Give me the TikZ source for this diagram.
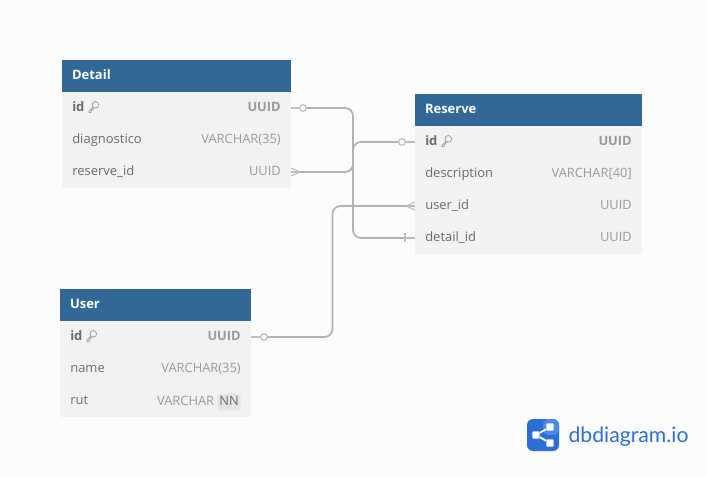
\documentclass[tikz,border=0pt]{standalone}
\usepackage{fontspec}
\setmainfont{Open Sans}
\newfontfamily\logofont{Lato}
\usetikzlibrary{positioning, calc}

\definecolor{headblue}{HTML}{316896}
\definecolor{rowgray}{HTML}{F2F2F2}
\definecolor{pagegray}{HTML}{FCFCFC}
\definecolor{fieldgray}{HTML}{6B6B6B}
\definecolor{typegray}{HTML}{9A9A9A}
\definecolor{linegray}{HTML}{B0B0B6}
\definecolor{logoblue}{HTML}{2B6FD6}
\definecolor{logolight}{HTML}{4A8CE6}

\begin{document}
\begin{tikzpicture}[
    x=0.75pt, y=-0.75pt,
    node distance=0pt,
    head/.style={rectangle, fill=headblue, text=white, font=\fontsize{9.75}{12}\selectfont\bfseries, anchor=north west, minimum height=24pt, text width=#1-15pt, text height=7.5pt, text depth=2pt, align=left, inner xsep=7.5pt, inner ysep=0pt, outer sep=0pt},
    row/.style={rectangle, fill=rowgray, minimum width=#1, minimum height=24pt, inner sep=0pt, outer sep=0pt},
    field/.style={text=fieldgray, font=\fontsize{9.75}{12}\selectfont, inner sep=0pt, anchor=west, text height=7.5pt, text depth=2pt},
    fieldkey/.style={field, font=\fontsize{9.75}{12}\selectfont\bfseries},
    type/.style={text=typegray, font=\fontsize{9.65}{12}\selectfont, inner sep=0pt, anchor=east, text height=7.5pt, text depth=2pt},
    typekey/.style={type, font=\fontsize{9.65}{12}\selectfont\bfseries},
    keyicon/.pic={\draw[typegray, line width=0.55pt] (2.6,-2.2) circle (3.3) (0.2,0.2) -- (-3.8,4.2) -- (-3.8,5.4) -- (-1.8,5.4) -- (-1.4,3.6) -- (1.2,1.4);},
    line/.style={draw=linegray, line width=1.3pt, rounded corners=6pt},
    thin/.style={draw=linegray!85, line width=0.8pt},
    zero/.style={circle, draw=linegray, line width=0.7pt, fill=pagegray, inner sep=0pt, minimum size=5pt},
    logodot/.style={rectangle, rounded corners=0.8pt, fill=white, inner sep=0pt, minimum size=5.5pt}
]
    \useasboundingbox (0,0) rectangle (706,477);
    \fill[pagegray] (0,0) rectangle (706,477);

    % Detail
    \node [head=171.75pt] (detail) at (62,60) {Detail};
    \node [row=171.75pt, below=of detail] (detailid) {};
    \node [row=171.75pt, below=of detailid] (detaildiag) {};
    \node [row=171.75pt, below=of detaildiag] (detailres) {};
    \node [fieldkey] at ($(detailid.west)+(10,0)$) (detailidname) {id};
    \pic at ($(detailidname.east)+(8,-1)$) {keyicon};
    \node [typekey] at ($(detailid.east)+(-10,0)$) {UUID};
    \node [field] at ($(detaildiag.west)+(10,0)$) {diagnostico};
    \node [type] at ($(detaildiag.east)+(-10,0)$) {VARCHAR(35)};
    \node [field] at ($(detailres.west)+(10,0)$) {reserve\_id};
    \node [type] at ($(detailres.east)+(-10,0)$) {UUID};

    % Reserve
    \node [head=170.25pt] (reserve) at (415,94) {Reserve};
    \node [row=170.25pt, below=of reserve] (reserveid) {};
    \node [row=170.25pt, below=of reserveid] (reservedesc) {};
    \node [row=170.25pt, below=of reservedesc] (reserveuser) {};
    \node [row=170.25pt, below=of reserveuser] (reservedetail) {};
    \node [fieldkey] at ($(reserveid.west)+(10,0)$) (reserveidname) {id};
    \pic at ($(reserveidname.east)+(8,-1)$) {keyicon};
    \node [typekey] at ($(reserveid.east)+(-10,0)$) {UUID};
    \node [field] at ($(reservedesc.west)+(10,0)$) {description};
    \node [type] at ($(reservedesc.east)+(-10,0)$) {VARCHAR[40]};
    \node [field] at ($(reserveuser.west)+(10,0)$) {user\_id};
    \node [type] at ($(reserveuser.east)+(-10,0)$) {UUID};
    \node [field] at ($(reservedetail.west)+(10,0)$) {detail\_id};
    \node [type] at ($(reservedetail.east)+(-10,0)$) {UUID};

    % User
    \node [head=143.25pt] (user) at (60,289) {User};
    \node [row=143.25pt, below=of user] (userid) {};
    \node [row=143.25pt, below=of userid] (username) {};
    \node [row=143.25pt, below=of username] (userrut) {};
    \node [fieldkey] at ($(userid.west)+(10,0)$) (useridname) {id};
    \pic at ($(useridname.east)+(8,-1)$) {keyicon};
    \node [typekey] at ($(userid.east)+(-10,0)$) {UUID};
    \node [field] at ($(username.west)+(10,0)$) {name};
    \node [type] at ($(username.east)+(-10,0)$) {VARCHAR(35)};
    \node [field] at ($(userrut.west)+(10,0)$) {rut};
    \node [type, fill=black!10, rounded corners=1.5pt, inner xsep=1.5pt, inner ysep=1.5pt, text=fieldgray] (usernn) at ($(userrut.east)+(-10,1)$) {NN};
    \node [type, left=2pt of usernn] {VARCHAR};

    % Connections
    \node [zero] (detailzero) at ($(detailid.east)+(12,0)$) {};
    \node [zero] (reservezero) at ($(reserveid.west)+(-13,0)$) {};
    \node [zero] (userzero) at ($(userid.east)+(13,0)$) {};
    \coordinate (detailcrow) at ($(detailres.east)+(9,0)$);
    \coordinate (usercrow) at ($(reserveuser.west)+(-9,0)$);
    \coordinate (detailbar) at ($(reservedetail.west)+(-10,0)$);

    \path [thin] (detailid.east) -- (detailzero);
    \path [thin] (reserveid.west) -- (reservezero);
    \path [thin] (userid.east) -- (userzero);
    \path [thin] (detailres.east) -- (detailcrow);
    \path [thin] (reserveuser.west) -- (usercrow);
    \path [thin] (reservedetail.west) -- (detailbar);

    \path [line] (detailzero) -| (353,172) |- (detailbar);
    \path [line] (reservezero) -| (353,172) |- (detailcrow);
    \path [line] (userzero) -| (332.5,206) -- (usercrow);

    \path [thin] (detailcrow) -- ($(detailres.east)+(0,-4)$);
    \path [thin] (detailcrow) -- ($(detailres.east)+(0,4)$);
    \path [thin] (usercrow) -- ($(reserveuser.west)+(0,-4)$);
    \path [thin] (usercrow) -- ($(reserveuser.west)+(0,4)$);
    \path [thin] ($(detailbar)+(0,-4.5)$) -- ($(detailbar)+(0,4.5)$);

    % Logo
    \node [rectangle, rounded corners=4.5pt, fill=logoblue, minimum size=24pt, inner sep=0pt, outer sep=0pt] (logo) at (543,435) {};
    \fill [logolight, rounded corners=4.5pt] (543,419) -- (559,419) -- (559,435) -- (543,435) -- cycle;
    \node [logodot] (logoa) at (536,435) {};
    \node [logodot] (logob) at (550,427) {};
    \node [logodot] (logoc) at (550,443) {};
    \draw [white, line width=1.4pt] (logob) -- (logoa) -- (logoc);
    \node [right=7pt of logo, yshift=-1.2pt, text=logoblue, inner xsep=0pt, font=\fontsize{15.9}{18}\logofont] {dbdiagram.io};
\end{tikzpicture}
\end{document}
